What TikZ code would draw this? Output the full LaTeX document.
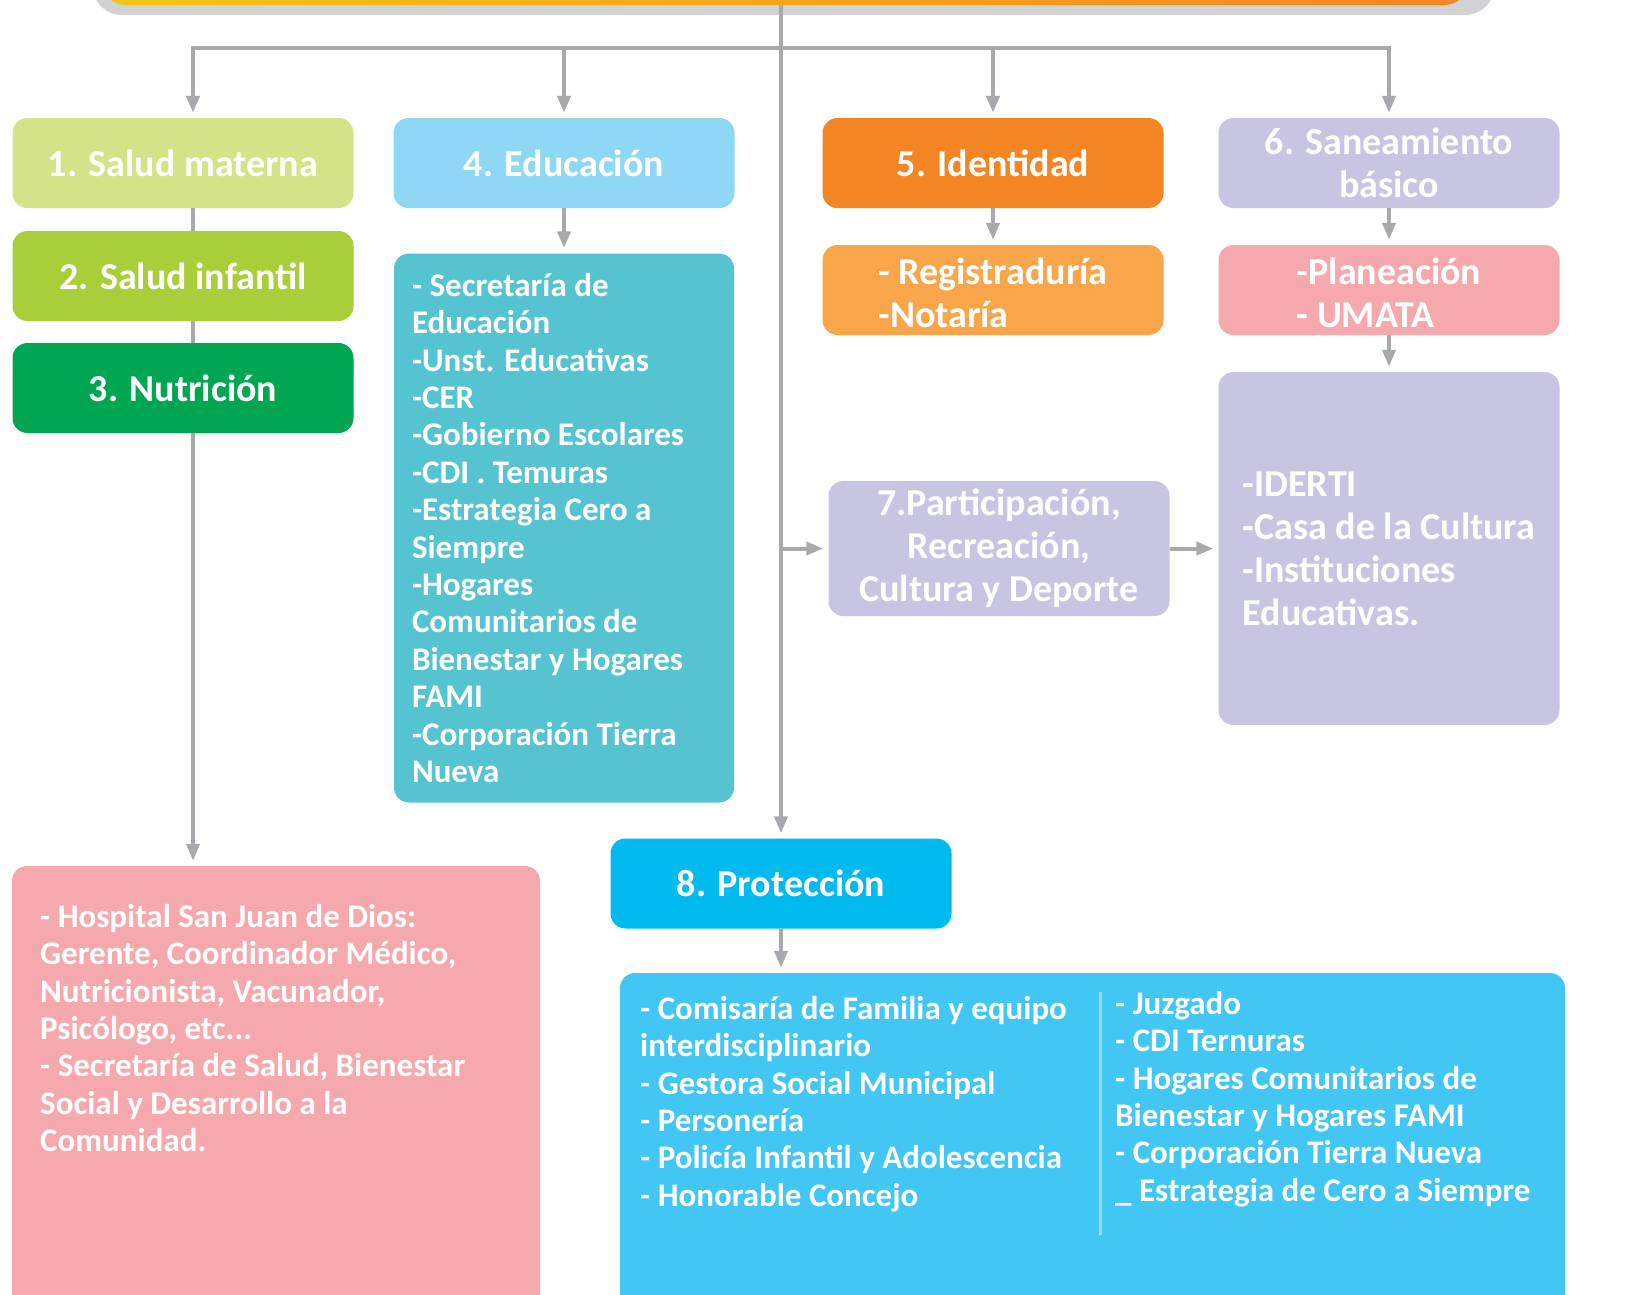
\documentclass[tikz,border=0pt]{standalone}
\usepackage{fontspec}
\setmainfont{Carlito}
\usetikzlibrary{arrows.meta,positioning}

\definecolor{verdeclaro}{HTML}{D5E388}
\definecolor{verdemedio}{HTML}{A8CF3A}
\definecolor{verdeoscuro}{HTML}{00A651}
\definecolor{celeste}{HTML}{8ED8F6}
\definecolor{turquesa}{HTML}{56C4D0}
\definecolor{naranja}{HTML}{F48523}
\definecolor{naranjaclaro}{HTML}{F9A54A}
\definecolor{amarillo}{HTML}{F5C518}
\definecolor{lavanda}{HTML}{C8C5E2}
\definecolor{rosa}{HTML}{F6A9AC}
\definecolor{cian}{HTML}{00BAF0}
\definecolor{cianclaro}{HTML}{42C6F3}
\definecolor{gris}{HTML}{A7A9AC}
\definecolor{grisclaro}{HTML}{D1D2D4}
\definecolor{divisor}{HTML}{9ADCF5}

\tikzset{
    caja/.style={rounded corners=15pt, minimum width=341pt, minimum height=90pt,
        inner sep=0pt, text=white, align=center,
        font=\fontsize{38}{43}\selectfont\bfseries},
    lista/.style={rounded corners=15pt, inner xsep=18pt, inner ysep=0pt,
        text=white, align=left, font=\fontsize{33}{37.4}\selectfont\bfseries},
    texto/.style={inner sep=0pt, text=white, align=left, anchor=north west,
        font=\fontsize{33}{37.4}\selectfont\bfseries},
    linea/.style={draw=gris, line width=4pt},
    flecha/.style={linea, -{Triangle[width=13pt,length=17pt]}, shorten >=5pt},
}

\begin{document}
\begin{tikzpicture}[x=1pt, y=-1pt]
    \useasboundingbox (0,0) rectangle (1631,1294);
    \clip (0,0) rectangle (1631,1294);

    % barra del titulo
    \fill[grisclaro, rounded corners=30pt] (92,-100) rectangle (1495,15);
    \node[left color=amarillo, right color=naranja, rounded corners=26pt,
        minimum width=1370pt, minimum height=100pt, inner sep=0pt] (titulo) at (785,-45) {};

    \coordinate (eje) at (781,48);
    \coordinate (ramaA) at (193,48);

    % columna 1
    \node[caja, fill=verdeclaro] (salud1) at (183,163) {1. Salud materna};
    \node[caja, fill=verdemedio] (salud2) at (183,276) {2. Salud infantil};
    \node[caja, fill=verdeoscuro] (nutri) at (183,388) {3. Nutrición};
    \node[fill=rosa, rounded corners=15pt, minimum width=528pt, minimum height=444pt] (saludlista) at (276,1088) {};
    \node[texto] (saludtexto) at (40,904) {- Hospital San Juan de Dios:\\
        Gerente, Coordinador Médico,\\
        Nutricionista, Vacunador,\\
        Psicólogo, etc...\\
        - Secretaría de Salud, Bienestar\\
        Social y Desarrollo a la\\
        Comunidad.};

    % columna 2
    \node[caja, fill=celeste] (educ) at (564,163) {4. Educación};
    \node[lista, fill=turquesa, text width=304pt, minimum height=549pt] (educlista) at (564,528)
        {\spaceskip=0pt\xspaceskip=0pt\relax
        - Secretaría de\\
        Educación\\
        -Unst. Educativas\\
        -CER\\
        -Gobierno Escolares\\
        -CDI . Temuras\\
        -Estrategia Cero a\\
        Siempre\\
        -Hogares\\
        Comunitarios de\\
        Bienestar y Hogares\\
        FAMI\\
        -Corporación Tierra\\
        Nueva};

    % columna 3
    \node[caja, fill=naranjaclaro] (regis) at (993,290) {\raisebox{-7pt}[\height][\depth]{\begin{tabular}{@{}l@{}}- Registraduría\\-Notaría\end{tabular}}};
    \node[caja, fill=naranja] (ident) at (993,163) {5. Identidad};
    \node[caja, fill=lavanda, minimum height=135pt] (partic) at (999,548.5)
        {7.Participación,\\Recreación,\\Cultura y Deporte};

    % columna 4
    \node[caja, fill=lavanda] (sanea) at (1389,163) {6. Saneamiento\\básico};
    \node[caja, fill=rosa] (plan) at (1389,290) {\raisebox{-7pt}[\height][\depth]{\begin{tabular}{@{}l@{}}-Planeación\\- UMATA\end{tabular}}};
    \node[caja, fill=lavanda, minimum height=353pt, align=left] (cultura) at (1389,548.5)
        {-IDERTI\\-Casa de la Cultura\\-Instituciones\\Educativas.};

    % proteccion
    \node[caja, fill=cian] (prot) at (781,883.5) {8. Protección};
    \node[fill=cianclaro, rounded corners=15pt, minimum width=945pt, minimum height=337pt] (protlista) at (1092.5,1141.5) {};
    \node[texto] (protA) at (640,996) {- Comisaría de Familia y equipo\\
        interdisciplinario\\
        - Gestora Social Municipal\\
        - Personería\\
        - Policía Infantil y Adolescencia\\
        - Honorable Concejo};
    \node[texto] (protB) at (1115,991) {- Juzgado\\
        - CDI Ternuras\\
        - Hogares Comunitarios de\\
        Bienestar y Hogares FAMI\\
        - Corporación Tierra Nueva\\
        \_ Estrategia de Cero a Siempre};
    \draw[divisor, line width=3pt] (protA.north east -| 1100,0) ++(0,-4) -- (1100,1235);

    % conectores
    \draw[flecha] (titulo.south -| eje) -- (prot.north);
    \draw[flecha] (eje) -| (ramaA |- salud1.north);
    \draw[flecha] (eje) -| (sanea.north);
    \draw[flecha] (educ.north |- eje) -- (educ.north);
    \draw[flecha] (ident.north |- eje) -- (ident.north);
    \draw[linea] (ramaA |- salud1.south) -- (ramaA |- salud2.north);
    \draw[linea] (ramaA |- salud2.south) -- (ramaA |- nutri.north);
    \draw[flecha] (ramaA |- nutri.south) -- (ramaA |- saludlista.north);
    \draw[flecha] (educ.south) -- (educlista.north);
    \draw[flecha] (ident.south) -- (regis.north);
    \draw[flecha] (sanea.south) -- (plan.north);
    \draw[flecha] (plan.south) -- (cultura.north);
    \draw[flecha] (eje |- partic.west) -- (partic.west);
    \draw[flecha] (partic.east) -- (partic.east -| cultura.west);
    \draw[flecha] (prot.south) -- (protlista.north -| prot.south);
\end{tikzpicture}
\end{document}
